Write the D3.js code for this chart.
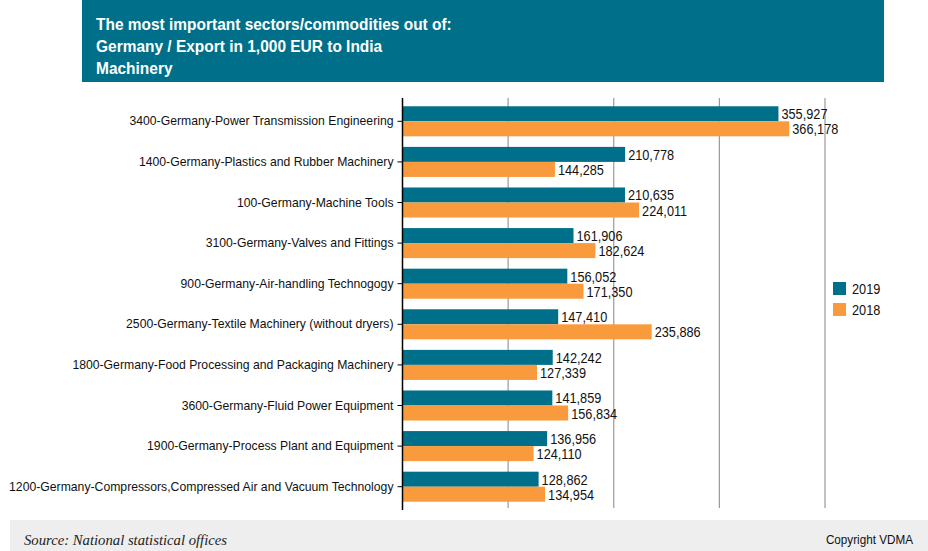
<!DOCTYPE html>
<html>
<head>
<meta charset="utf-8">
<script src="https://cdn.jsdelivr.net/npm/d3@7"></script>
<style>
  body { margin: 0; background: #fff; }
  svg text { font-family: "Liberation Sans Narrow", "Arial Narrow", "Liberation Sans", sans-serif; }
</style>
</head>
<body>
<div id="chart"></div>
<script>
// data
categories = [
  "3400-Germany-Power Transmission Engineering",
  "1400-Germany-Plastics and Rubber Machinery",
  "100-Germany-Machine Tools",
  "3100-Germany-Valves and Fittings",
  "900-Germany-Air-handling Technogogy",
  "2500-Germany-Textile Machinery (without dryers)",
  "1800-Germany-Food Processing and Packaging Machinery",
  "3600-Germany-Fluid Power Equipment",
  "1900-Germany-Process Plant and Equipment",
  "1200-Germany-Compressors,Compressed Air and Vacuum Technology"
]
values2019 = [355927, 210778, 210635, 161906, 156052, 147410, 142242, 141859, 136956, 128862]
values2018 = [366178, 144285, 224011, 182624, 171350, 235886, 127339, 156834, 124110, 134954]
series = ["2019", "2018"]
gridTicks = [100000, 200000, 300000, 400000]
titleLines = [
  "The most important sectors/commodities out of:",
  "Germany / Export in 1,000 EUR to India",
  "Machinery"
]

width = 928, height = 551
margin = {top: 101, left: 402.5, right: 103, bottom: 44}
colors = {"2019": "#00708a", "2018": "#f99a3c"}
// horizontal squeeze to imitate the condensed face
labelScale = 0.94, valueScale = 0.91, titleScale = 0.91

svg = d3.select("#chart")
  .append("svg")
  .attr("width", width)
  .attr("height", height)

// title box
svg.append("rect")
  .attr("x", 82).attr("y", 0)
  .attr("width", 802).attr("height", 82)
  .attr("fill", "#00708a")
svg.selectAll(".title")
  .data(titleLines)
  .join("text")
    .attr("transform", (d, i) => `translate(96, ${29.5 + i * 22}) scale(${titleScale},1)`)
    .attr("fill", "#fff")
    .style("font-size", "17px")
    .style("font-weight", "bold")
    .text(d => d)

data = categories.map((c, i) => ({cat: c, "2019": values2019[i], "2018": values2018[i]}))

x = d3.scaleLinear()
  .domain([0, 400000])
  .range([margin.left, width - margin.right])

y = d3.scaleBand()
  .domain(categories)
  .range([margin.top, height - margin.bottom])
  .paddingInner(0.26)
  .paddingOuter(0.13)

ySub = d3.scaleBand()
  .domain(series)
  .range([0, y.bandwidth()])

// gridlines
svg.selectAll(".grid")
  .data(gridTicks)
  .join("line")
    .attr("x1", d => x(d)).attr("x2", d => x(d))
    .attr("y1", 98).attr("y2", 508)
    .attr("stroke", "#999")
    .attr("stroke-width", 1.2)

// bars
groups = svg.selectAll(".grp")
  .data(data)
  .join("g")
    .attr("transform", d => `translate(0, ${y(d.cat)})`)

groups.selectAll("rect")
  .data(d => series.map(s => ({s: s, v: d[s]})))
  .join("rect")
    .attr("x", x(0))
    .attr("y", d => ySub(d.s))
    .attr("width", d => x(d.v) - x(0))
    .attr("height", ySub.bandwidth())
    .attr("fill", d => colors[d.s])

groups.selectAll(".val")
  .data(d => series.map(s => ({s: s, v: d[s]})))
  .join("text")
    .attr("transform", d => `translate(${x(d.v) + 3}, ${ySub(d.s) + ySub.bandwidth() / 2 + 5.5}) scale(${valueScale},1)`)
    .style("font-size", "14px")
    .attr("fill", "#111")
    .text(d => d3.format(",")(d.v))

// y axis
yAxis = svg.append("g")
  .attr("transform", `translate(${margin.left}, 0)`)
  .call(d3.axisLeft(y).tickSize(5).tickPadding(4))
yAxis.select(".domain")
  .attr("d", `M0,98V510`)
  .attr("stroke", "#000")
  .attr("stroke-width", 1.5)
yAxis.selectAll(".tick text")
  .attr("x", -9 / labelScale)
  .attr("transform", `scale(${labelScale},1)`)
  .style("font-size", "13px")
  .attr("fill", "#111")
yAxis.selectAll(".tick line").attr("stroke", "#000")

// legend
legend = svg.selectAll(".leg")
  .data(series)
  .join("g")
    .attr("transform", (d, i) => `translate(833, ${282 + i * 21})`)
legend.append("rect")
  .attr("width", 13).attr("height", 13)
  .attr("fill", d => colors[d])
legend.append("text")
  .attr("transform", `translate(19, 11.5) scale(${valueScale},1)`)
  .style("font-size", "14px")
  .attr("fill", "#111")
  .text(d => d)

// footer
svg.append("rect")
  .attr("x", 10).attr("y", 520)
  .attr("width", 918).attr("height", 31)
  .attr("fill", "#eeeeee")
svg.append("text")
  .attr("x", 24).attr("y", 544.5)
  .style("font-family", "'Liberation Serif', 'DejaVu Serif', serif")
  .style("font-style", "italic")
  .style("font-size", "14.7px")
  .attr("fill", "#222")
  .text("Source: National statistical offices")
svg.append("text")
  .attr("transform", `translate(913, 544) scale(0.9,1)`)
  .attr("text-anchor", "end")
  .style("font-size", "13px")
  .attr("fill", "#111")
  .text("Copyright VDMA")
</script>
</body>
</html>
